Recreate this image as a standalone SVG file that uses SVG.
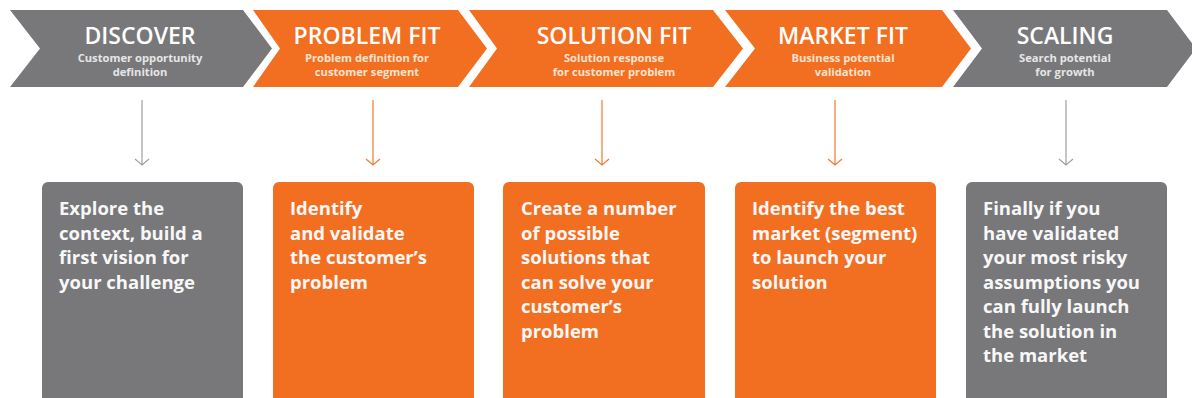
<svg xmlns="http://www.w3.org/2000/svg" width="1192" height="398" viewBox="0 0 1192 398">
  <defs>
    <style>
      .chev-grey { fill: #78787b; }
      .chev-orange { fill: #f26f21; }
      .title { font-family: "Open Sans", "Liberation Sans", sans-serif; font-weight: 600; font-size: 23px; fill: #ffffff; text-anchor: middle; }
      .sub { font-family: "Open Sans", "Liberation Sans", sans-serif; font-weight: 700; font-size: 11.2px; text-anchor: middle; }
      .sub-grey { fill: #e6e6e6; }
      .sub-orange { fill: #fde3d0; }
      .body { font-family: "Open Sans", "Liberation Sans", sans-serif; font-weight: 700; font-size: 18.5px; fill: #f7f7f7; }
      .link { fill: none; stroke-width: 1.2; }
      .link-grey { stroke: #a0a0a2; }
      .link-orange { stroke: #f07a30; }
    </style>
  </defs>
  <rect width="1192" height="398" fill="#ffffff"/>

  <!-- Phase chevrons -->
  <g id="discover">
    <polygon class="chev-grey" points="10,10 243,10 272,48.5 243,87 10,87 40,48.5"/>
    <text class="title" x="140" y="44">DISCOVER</text>
    <text class="sub sub-grey" x="140" y="62">Customer opportunity</text>
    <text class="sub sub-grey" x="140" y="76">definition</text>
  </g>
  <g id="problem-fit">
    <polygon class="chev-orange" points="253,10 458,10 487,48.5 458,87 253,87 280,48.5"/>
    <text class="title" x="367" y="44">PROBLEM FIT</text>
    <text class="sub sub-orange" x="367" y="62">Problem definition for</text>
    <text class="sub sub-orange" x="367" y="76">customer segment</text>
  </g>
  <g id="solution-fit">
    <polygon class="chev-orange" points="469,10 713,10 743,48.5 713,87 469,87 497,48.5"/>
    <text class="title" x="614" y="44">SOLUTION FIT</text>
    <text class="sub sub-orange" x="614" y="62">Solution response</text>
    <text class="sub sub-orange" x="614" y="76">for customer problem</text>
  </g>
  <g id="market-fit">
    <polygon class="chev-orange" points="725,10 942,10 971,48.5 942,87 725,87 755,48.5"/>
    <text class="title" x="843" y="44">MARKET FIT</text>
    <text class="sub sub-orange" x="843" y="62">Business potential</text>
    <text class="sub sub-orange" x="843" y="76">validation</text>
  </g>
  <g id="scaling">
    <polygon class="chev-grey" points="953,10 1167,10 1196,48.5 1167,87 953,87 982,48.5"/>
    <text class="title" x="1065" y="44">SCALING</text>
    <text class="sub sub-grey" x="1065" y="62">Search potential</text>
    <text class="sub sub-grey" x="1065" y="76">for growth</text>
  </g>

  <!-- Connectors from phases to descriptions -->
  <g id="connectors">
    <path class="link link-grey" d="M142,100 V165 M135,159 L142,165 L149,159"/>
    <path class="link link-orange" d="M373,100 V165 M366,159 L373,165 L380,159"/>
    <path class="link link-orange" d="M602,100 V165 M595,159 L602,165 L609,159"/>
    <path class="link link-orange" d="M835,100 V165 M828,159 L835,165 L842,159"/>
    <path class="link link-grey" d="M1066,100 V165 M1059,159 L1066,165 L1073,159"/>
  </g>

  <!-- Description cards -->
  <g id="card-discover">
    <rect class="chev-grey" x="42" y="182" width="201" height="226" rx="6"/>
    <text class="body" x="59" y="215">Explore the</text>
    <text class="body" x="59" y="239.5">context, build a</text>
    <text class="body" x="59" y="264">first vision for</text>
    <text class="body" x="59" y="288.5">your challenge</text>
  </g>
  <g id="card-problem-fit">
    <rect class="chev-orange" x="273" y="182" width="201" height="226" rx="6"/>
    <text class="body" x="290" y="215">Identify</text>
    <text class="body" x="290" y="239.5">and validate</text>
    <text class="body" x="290" y="264">the customer’s</text>
    <text class="body" x="290" y="288.5">problem</text>
  </g>
  <g id="card-solution-fit">
    <rect class="chev-orange" x="503" y="182" width="202" height="226" rx="6"/>
    <text class="body" x="521" y="215">Create a number</text>
    <text class="body" x="521" y="239.5">of possible</text>
    <text class="body" x="521" y="264">solutions that</text>
    <text class="body" x="521" y="288.5">can solve your</text>
    <text class="body" x="521" y="313">customer’s</text>
    <text class="body" x="521" y="337.5">problem</text>
  </g>
  <g id="card-market-fit">
    <rect class="chev-orange" x="735" y="182" width="201" height="226" rx="6"/>
    <text class="body" x="752" y="215">Identify the best</text>
    <text class="body" x="752" y="239.5">market (segment)</text>
    <text class="body" x="752" y="264">to launch your</text>
    <text class="body" x="752" y="288.5">solution</text>
  </g>
  <g id="card-scaling">
    <rect class="chev-grey" x="966" y="182" width="201" height="226" rx="6"/>
    <text class="body" x="983" y="215">Finally if you</text>
    <text class="body" x="983" y="239.5">have validated</text>
    <text class="body" x="983" y="264">your most risky</text>
    <text class="body" x="983" y="288.5">assumptions you</text>
    <text class="body" x="983" y="313">can fully launch</text>
    <text class="body" x="983" y="337.5">the solution in</text>
    <text class="body" x="983" y="362">the market</text>
  </g>
</svg>
